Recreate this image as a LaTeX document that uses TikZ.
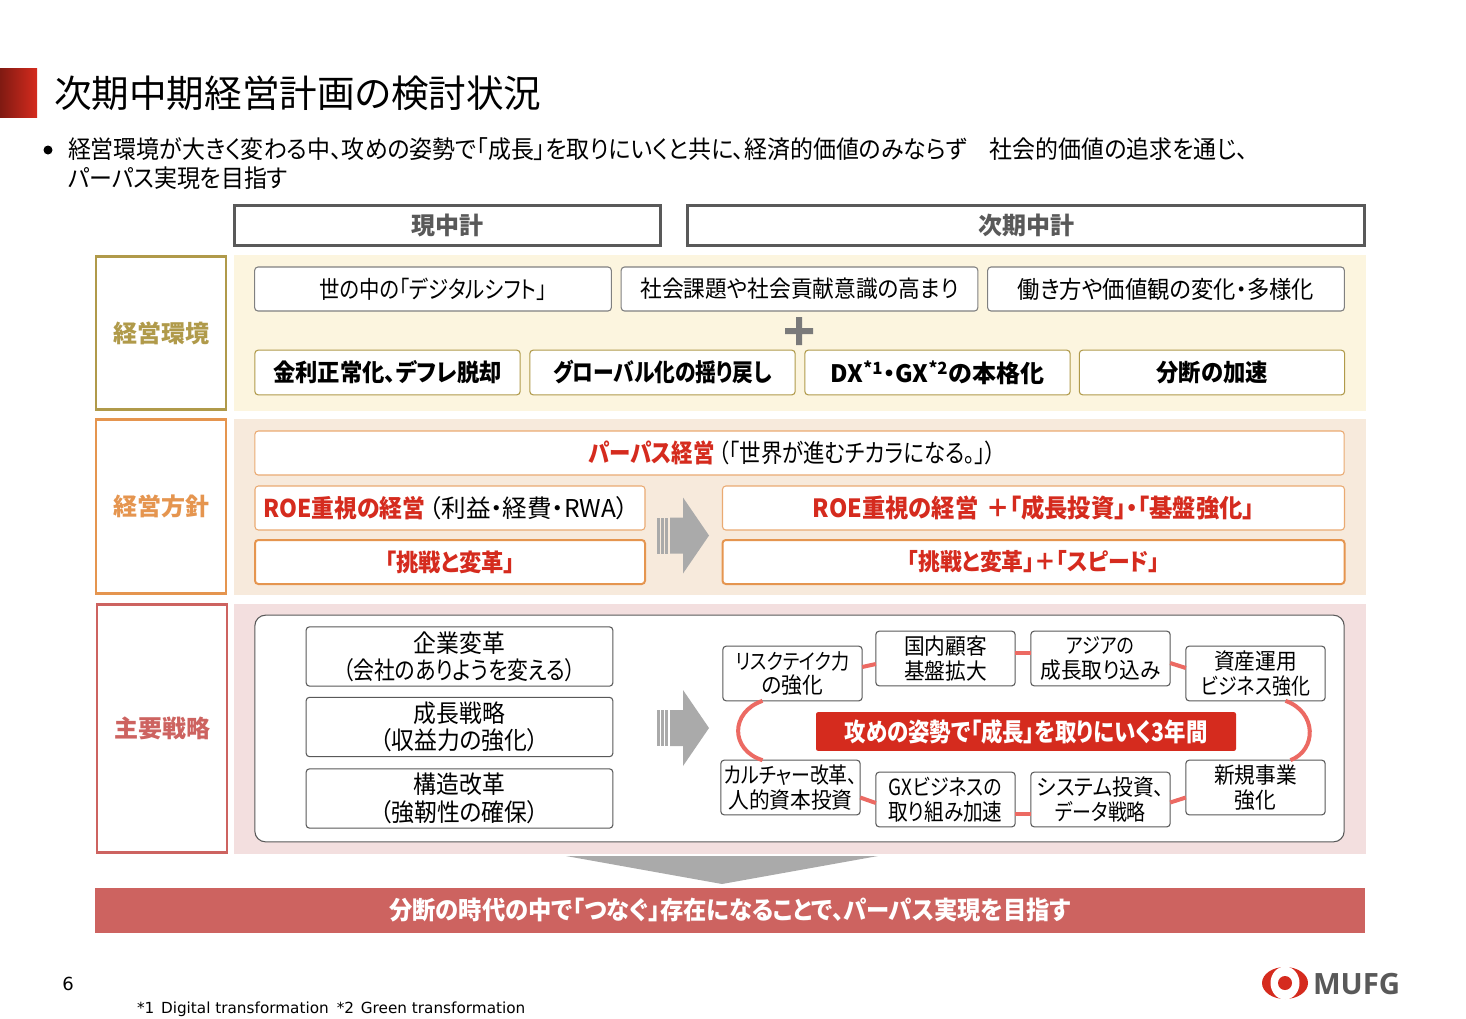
\documentclass[tikz,border=0pt]{standalone}
\usepackage{fontspec}
\setmainfont[RawFeature=+palt,FakeStretch=0.93]{Noto Sans CJK JP}
\newfontfamily\widefont[RawFeature=+palt]{Noto Sans CJK JP}
\newfontfamily\narrowfont[RawFeature=+palt,FakeStretch=0.85]{Noto Sans CJK JP}
\newfontfamily\latinfont{DejaVu Sans}
\newfontfamily\logofont{Open Sans}
\usetikzlibrary{calc}

\definecolor{mufgred}{HTML}{D52B1E}
\definecolor{darkgray}{HTML}{595959}
\definecolor{gold}{HTML}{B09A4A}
\definecolor{amber}{HTML}{E5954F}
\definecolor{rose}{HTML}{CD6360}
\definecolor{ringred}{HTML}{EC6A63}
\definecolor{goldband}{HTML}{FCF5DF}
\definecolor{amberband}{HTML}{F7EADC}
\definecolor{roseband}{HTML}{F3DFDF}
\definecolor{arrowgray}{HTML}{AAAAAA}

\begin{document}
\begin{tikzpicture}[x=0.75pt,y=-0.75pt,font=\fontsize{18}{20}\selectfont,
	inner sep=0pt,outer sep=0pt]
	\tikzstyle{head}=[draw=darkgray,line width=2.2pt,fill=white,text=darkgray,font=\widefont\fontsize{18}{20}\selectfont\bfseries]
	\tikzstyle{tag}=[fill=white,line width=2.2pt,font=\widefont\fontsize{18}{20}\selectfont\bfseries,minimum width=97.5pt]
	\tikzstyle{trend}=[draw=gray,fill=white,rounded corners=2.5pt,line width=0.8pt,minimum width=267.5pt,minimum height=33pt]
	\tikzstyle{driver}=[draw=gold,fill=white,rounded corners=2.5pt,line width=0.8pt,minimum width=199pt,minimum height=33.5pt,font=\fontsize{18}{20}\selectfont\bfseries]
	\tikzstyle{policy}=[draw=amber!80,fill=white,rounded corners=2.5pt,line width=0.8pt,minimum height=33pt,text=mufgred,font=\fontsize{18}{20}\selectfont\bfseries]
	\tikzstyle{thick policy}=[policy,draw=amber,line width=1.5pt]
	\tikzstyle{pillar}=[draw=darkgray,fill=white,rounded corners=2.5pt,line width=0.8pt,minimum width=230pt,minimum height=44.5pt,align=center,font=\fontsize{18.4}{20.5}\selectfont]
	\tikzstyle{theme}=[draw=darkgray,fill=white,rounded corners=2.5pt,line width=0.8pt,minimum width=104.5pt,minimum height=41pt,align=center,font=\fontsize{16.7}{18.5}\selectfont]
	\tikzstyle{ring}=[draw=ringred,line width=3pt]

	\useasboundingbox (0,0) rectangle (1466,1018);

	% title
	\shade[left color=mufgred!60!black,right color=mufgred] (0,68) rectangle (37,117);
	\node[anchor=west,font=\widefont\fontsize{28.2}{30}\selectfont] (title) at (54,93) {次期中期経営計画の検討状況};
	\fill (48,150) circle (4.5);
	\node[anchor=north west,align=left,font=\fontsize{18.5}{21.75}\selectfont] (lead) at (68,137.5)
		{経営環境が大きく変わる中、攻めの姿勢で「成長」を取りにいくと共に、経済的価値のみならず　社会的価値の追求を通じ、\\パーパス実現を目指す};

	% column heads
	\node[head,minimum width=320pt,minimum height=30pt] (current) at (447.5,225.5) {現中計};
	\node[head,minimum width=507.5pt,minimum height=30pt] (next) at (1026,225.5) {次期中計};

	% environment
	\fill[fill=goldband] (234,255) rectangle (1366,411);
	\node[tag,draw=gold,text=gold,minimum height=115pt] (envtag) at (161,333) {経営環境};
	\node[trend,font=\narrowfont\fontsize{18}{20}\selectfont] (digital) at (433,289) {世の中の「デジタルシフト」};
	\node[trend,font=\fontsize{17.5}{20}\selectfont] (social) at (799.5,289) {社会課題や社会貢献意識の高まり};
	\node[trend] (work) at (1166,289) {働き方や価値観の変化・多様化};
	\fill[darkgray!80] (785,328) rectangle (813,334) (796,317) rectangle (802,345);
	\node[driver] (rates) at (387.5,372.5) {金利正常化、デフレ脱却};
	\node[driver,font=\narrowfont\fontsize{18.3}{20}\selectfont\bfseries] (global) at (662.5,372.5) {グローバル化の揺り戻し};
	\node[driver,font=\widefont\fontsize{18}{20}\selectfont\bfseries] (dxgx) at (937.5,372.5) {DX\textsuperscript{*1}・GX\textsuperscript{*2}の本格化};
	\node[driver] (split) at (1212,372.5) {分断の加速};

	% policy
	\fill[fill=amberband] (234,419) rectangle (1366,595);
	\node[tag,draw=amber,text=amber,minimum height=130pt] (poltag) at (161,506.5) {経営方針};
	\node[policy,minimum width=817pt,font=\narrowfont\fontsize{18.9}{20}\selectfont\bfseries] (purpose) at (799.5,453) {パーパス経営\hspace{3pt}\mdseries\color{black}（「世界が進むチカラになる。」）\hspace*{10.5pt}};
	\node[policy,minimum width=292.5pt] (roenow) at (450,508) {};
	\node[anchor=west,text=mufgred,font=\fontsize{18.4}{20}\selectfont\bfseries] (roenowtext) at (263,508) {ROE重視の経営\hspace{3pt}\widefont\mdseries\color{black}（利益・経費・RWA）};
	\node[thick policy,minimum width=292.5pt] (challenge) at (450,562) {「挑戦と変革」};
	\node[policy,minimum width=466.5pt,font=\fontsize{18.8}{20}\selectfont\bfseries] (roenext) at (1033.5,508) {ROE重視の経営\hspace{6pt}＋「成長投資」・「基盤強化」};
	\node[thick policy,minimum width=466.5pt,font=\fontsize{17.6}{20}\selectfont\bfseries] (speed) at (1033.5,562) {「挑戦と変革」＋「スピード」};

	% strategy
	\fill[fill=roseband] (234,604) rectangle (1366,854);
	\node[tag,draw=rose,text=rose,minimum height=186pt] (strattag) at (162,728.5) {主要戦略};
	\node[draw=darkgray,fill=white,rounded corners=8pt,line width=0.8pt,minimum width=817pt,minimum height=170pt] (frame) at (799.5,728.5) {};
	\node[pillar] (corporate) at (459.5,656.5) {企業変革\\{\narrowfont（会社のありようを変える）}};
	\node[pillar] (growth) at (459.5,727) {成長戦略\\（収益力の強化）};
	\node[pillar] (reform) at (459.5,798.5) {構造改革\\（強靭性の確保）};

	% block arrows
	\foreach \y in {535.5,728}{
		\fill[arrowgray] (670,\y-18) -- (683,\y-18) -- (683,\y-38) -- (709,\y) -- (683,\y+38) -- (683,\y+18) -- (670,\y+18) -- cycle;
		\foreach \x in {657,661,665}
			\fill[arrowgray] (\x,\y-18) rectangle (\x+2.5,\y+18);
	}

	\node[theme] (risk) at (792.5,673.5) {{\narrowfont\fontsize{16}{18.5}\selectfont リスクテイク力}\\の強化};
	\node[theme] (domestic) at (945.5,658.5) {国内顧客\\基盤拡大};
	\node[theme] (asia) at (1100.5,658.5) {{\narrowfont\fontsize{16}{18.5}\selectfont アジアの}\\成長取り込み};
	\node[theme] (asset) at (1255.5,673.5) {資産運用\\{\narrowfont ビジネス強化}};
	\node[theme] (culture) at (790.5,787.5) {{\narrowfont カルチャー改革、}\\人的資本投資};
	\node[theme] (gxbiz) at (945.5,799.5) {{\narrowfont GXビジネスの}\\{\narrowfont\fontsize{17.3}{18.5}\selectfont 取り組み加速}};
	\node[theme] (system) at (1100.5,799.5) {システム投資、\\{\narrowfont データ戦略}};
	\node[theme] (newbiz) at (1255.5,787.5) {新規事業\\強化};
	\node[fill=mufgred,text=white,rounded corners=1.5pt,minimum width=315pt,minimum height=29pt,font=\narrowfont\fontsize{18.9}{20}\selectfont\bfseries] (attack) at (1026,731.5) {攻めの姿勢で「成長」を取りにいく3年間};

	\path[ring] ($(risk.east)+(0,-6.5)$) -- ($(domestic.west)+(0,5.5)$);
	\path[ring] ($(domestic.east)+(0,-6)$) -- ($(asia.west)+(0,-6)$);
	\path[ring] ($(asia.east)+(0,4.5)$) -- ($(asset.west)+(0,-5.5)$);
	\path[ring] ($(culture.east)+(0,10)$) -- ($(gxbiz.west)+(0,3.5)$);
	\path[ring] ($(gxbiz.east)+(0,14)$) -- ($(system.west)+(0,14)$);
	\path[ring] ($(system.east)+(0,3)$) -- ($(newbiz.west)+(0,10)$);
	\path[ring] ($(risk.south)+(-30,0)$) .. controls (730,712) and (730,750) .. ($(culture.north)+(-28,0)$);
	\path[ring] ($(asset.south)+(30,0)$) .. controls (1317,712) and (1317,750) .. ($(newbiz.north)+(35,0)$);

	% conclusion
	\fill[arrowgray] (566,856) -- (878,856) -- (722,884) -- cycle;
	\node[fill=rose,text=white,minimum width=952.5pt,minimum height=34pt,font=\fontsize{18.8}{20}\selectfont\bfseries] (goal) at (730,910.5) {分断の時代の中で「つなぐ」存在になることで、パーパス実現を目指す};

	% footer
	\node[font=\latinfont\fontsize{13.5}{15}\selectfont] (page) at (68,984) {6};
	\node[anchor=west,font=\latinfont\fontsize{11.45}{14}\selectfont] (notes) at (137,1009) {*1\hspace{5pt}Digital transformation\hspace{6pt}*2\hspace{5pt}Green transformation};
	\fill[mufgred] (1285,983) ellipse (23 and 16);
	\fill[white] (1285,983) ellipse (14.5 and 16.5);
	\fill[mufgred] (1285,983) circle (7);
	\node[anchor=west,text=darkgray,font=\logofont\fontsize{22}{26}\selectfont\bfseries] (logo) at (1313,984) {MUFG};
\end{tikzpicture}
\end{document}
